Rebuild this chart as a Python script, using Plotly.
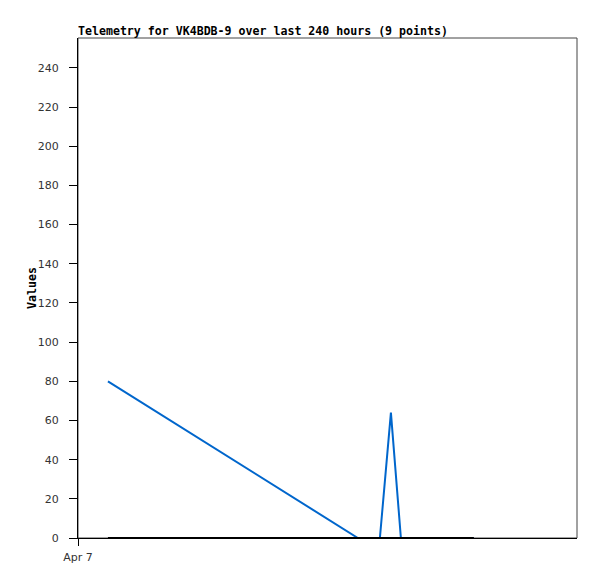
import plotly.graph_objects as go
import datetime as dt

# time of each point (hours after Apr 7 00:00)
hours = [1.44, 13.46, 14.52, 15.05, 15.53, 16.5, 17.4, 18.2, 19.04]
series_a = [80, 0, 0, 64, 0, 0, 0, 0, 0]
series_b = [0, 0, 0, 0, 0, 0, 0, 0, 0]
x_range_hours = [0, 24]
y_ticks = list(range(0, 241, 20))

t0 = dt.datetime(2024, 4, 7)
times = [t0 + dt.timedelta(hours=h) for h in hours]
xr = [t0 + dt.timedelta(hours=h) for h in x_range_hours]

fig = go.Figure()
fig.add_trace(go.Scatter(x=times, y=series_a, mode="lines",
                         line=dict(color="#0066cc", width=2), name="A"))
fig.add_trace(go.Scatter(x=times, y=series_b, mode="lines",
                         line=dict(color="#000000", width=2), name="B"))

fig.update_layout(
    width=597, height=579,
    margin=dict(l=70, r=28, t=30, b=49),
    paper_bgcolor="white", plot_bgcolor="white",
    showlegend=False,
    title=dict(text="<b>Telemetry for VK4BDB-9 over last 240 hours (9 points)</b>",
               font=dict(family="DejaVu Sans Mono", size=11.6, color="black"),
               x=70/597, xanchor="left", xref="container",
               y=1-23/579, yanchor="middle", yref="container"),
    xaxis=dict(type="date", range=xr, tickvals=[t0], ticktext=["Apr 7"],
               showgrid=False, zeroline=False, showline=True, linecolor="black",
               linewidth=1, ticks="outside", ticklen=7, tickcolor="black",
               ticklabelstandoff=2,
               tickfont=dict(family="DejaVu Sans", size=11, color="#333")),
    yaxis=dict(range=[0, 255.3], tickvals=y_ticks,
               showgrid=False, zeroline=False, showline=True, linecolor="black",
               linewidth=1, ticks="outside", ticklen=8, tickcolor="black",
               ticklabelstandoff=8,
               tickfont=dict(family="DejaVu Sans", size=11, color="#333")),
    annotations=[dict(text="<b>Values</b>", textangle=-90, showarrow=False,
                      xref="paper", yref="paper", x=(32-78)/499, y=0.5,
                      xanchor="center", yanchor="middle",
                      font=dict(family="DejaVu Sans Mono", size=11.6, color="black"))],
    shapes=[dict(type="rect", xref="paper", yref="paper", x0=0, x1=1, y0=0, y1=1,
                 line=dict(color="#444444", width=1), layer="below")],
)
fig.write_html("out.html")
